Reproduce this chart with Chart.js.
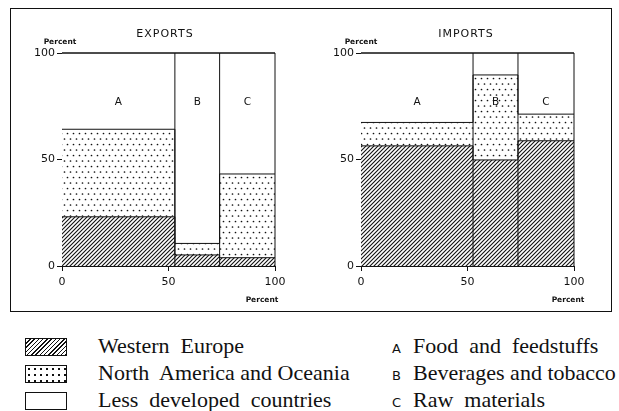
<!DOCTYPE html>
<html><head><meta charset="utf-8">
<script src="https://cdn.jsdelivr.net/npm/chart.js@4.4.1/dist/chart.umd.min.js"></script>
<style>
body{margin:0;background:#fff;width:619px;height:411px;position:relative;overflow:hidden;font-family:"DejaVu Sans",sans-serif;color:#111;}
#frame{position:absolute;left:10px;top:8px;width:600px;height:302px;border:1px solid #111;}
canvas{position:absolute;top:0;}
.t{position:absolute;white-space:nowrap;transform:translate(-50%,-50%);}
.title{font-size:11px;letter-spacing:1px;}
.pc{font-size:7.5px;font-weight:bold;}
.sw{position:absolute;left:25px;width:40px;height:16px;border:1px solid #111;background:#fff;}
.lg{position:absolute;font-family:"Liberation Serif",serif;font-size:22px;white-space:nowrap;transform:translateY(-50%);}
.lk{position:absolute;font-family:"DejaVu Sans",sans-serif;font-size:13px;transform:translateY(-50%);}
</style></head>
<body>
<div id="frame"></div>
<canvas id="exp" width="310" height="300" style="left:0px"></canvas>
<canvas id="imp" width="310" height="300" style="left:300px"></canvas>
<div class="t title" style="left:165px;top:33px">EXPORTS</div>
<div class="t title" style="left:466px;top:33px">IMPORTS</div>
<div class="t pc" style="left:60px;top:41px">Percent</div>
<div class="t pc" style="left:361px;top:41px">Percent</div>
<div class="t pc" style="left:262px;top:299px">Percent</div>
<div class="t pc" style="left:568px;top:299px">Percent</div>

<div class="sw" style="top:338px;background:repeating-linear-gradient(-45deg,#111 0 1px,#fff 1px 3px)"></div>
<div class="sw" style="top:365px;background:radial-gradient(circle,#111 0.9px,transparent 1.2px) 0 0/6px 6px,#fff"></div>
<div class="sw" style="top:392px;"></div>
<div class="lg" style="left:98px;top:346px">Western&nbsp; Europe</div>
<div class="lg" style="left:98px;top:373px">North&nbsp; America and Oceania</div>
<div class="lg" style="left:98px;top:400px">Less&nbsp; developed&nbsp; countries</div>
<div class="lk" style="left:392px;top:348px">A</div>
<div class="lk" style="left:392px;top:375px">B</div>
<div class="lk" style="left:392px;top:402px">C</div>
<div class="lg" style="left:413px;top:346px">Food&nbsp; and&nbsp; feedstuffs</div>
<div class="lg" style="left:413px;top:373px">Beverages and tobacco</div>
<div class="lg" style="left:413px;top:400px">Raw&nbsp; materials</div>

<script>
const categories = ['A', 'B', 'C'];
const seriesNames = ['Western Europe', 'North America and Oceania', 'Less developed countries'];
// column widths (share of total, percent)
const exportWidths = [53, 21, 26];
const importWidths = [52.6, 21.1, 26.3];
// regional shares within each column (percent)
const exportWE = [23.1, 5.2, 3.9];
const exportNA = [41.1, 5.4, 39.3];
const exportLDC = [35.8, 89.4, 56.8];
const importWE = [56.4, 49.8, 58.8];
const importNA = [11.0, 39.9, 12.5];
const importLDC = [32.6, 10.3, 28.7];
const xTickValues = [0, 50, 100];
const yTickValues = [0, 50, 100];

function hatchPattern() {
  const c = document.createElement('canvas'); c.width = 4; c.height = 4;
  const g = c.getContext('2d');
  g.fillStyle = '#fff'; g.fillRect(0, 0, 4, 4);
  g.strokeStyle = '#111'; g.lineWidth = 1.1;
  g.beginPath();
  g.moveTo(0, 4); g.lineTo(4, 0);
  g.moveTo(-1, 1); g.lineTo(1, -1);
  g.moveTo(3, 5); g.lineTo(5, 3);
  g.stroke();
  return g.createPattern(c, 'repeat');
}
function dotPattern() {
  const c = document.createElement('canvas'); c.width = 6; c.height = 11;
  const g = c.getContext('2d');
  g.fillStyle = '#fff'; g.fillRect(0, 0, 6, 11);
  g.fillStyle = '#111';
  g.beginPath(); g.arc(1.5, 1.5, 0.85, 0, Math.PI * 2); g.fill();
  g.beginPath(); g.arc(4.5, 7, 0.85, 0, Math.PI * 2); g.fill();
  return g.createPattern(c, 'repeat');
}

function boundaries(widths) {
  const b = [0];
  widths.forEach(w => b.push(b[b.length - 1] + w));
  return b;
}
function stepPoints(b, tops) {
  const pts = tops.map((v, i) => ({ x: b[i], y: v }));
  pts.push({ x: b[b.length - 1], y: tops[tops.length - 1] });
  return pts;
}

function makeChart(id, widths, we, na, ldc, padL, padR) {
  const b = boundaries(widths);
  const topWE = we.slice();
  const topNA = we.map((v, i) => v + na[i]);
  const topLDC = topNA.map((v, i) => v + ldc[i]);
  const common = { stepped: 'before', pointRadius: 0, borderColor: '#111', borderWidth: 1, clip: 4, order: 2 };
  const datasets = [
    Object.assign({ label: seriesNames[0], data: stepPoints(b, topWE), fill: 'origin', backgroundColor: hatchPattern() }, common),
    Object.assign({ label: seriesNames[1], data: stepPoints(b, topNA), fill: '-1', backgroundColor: dotPattern() }, common),
    Object.assign({ label: seriesNames[2], data: stepPoints(b, topLDC), fill: '-1', backgroundColor: '#fff' }, common)
  ];
  // column separators and outer edge, drawn on top
  b.slice(1).forEach(x => {
    datasets.push({ label: 'edge', data: [{ x: x, y: 0 }, { x: x, y: 100 }], pointRadius: 0, borderColor: '#111', borderWidth: 1, fill: false, clip: 4, order: 0 });
  });
  datasets.push({ label: 'top', data: [{ x: 0, y: 100 }, { x: 100, y: 100 }], pointRadius: 0, borderColor: '#111', borderWidth: 1, fill: false, clip: 4, order: 0 });
  const letters = {
    id: 'letters',
    afterDatasetsDraw(chart) {
      const { ctx, scales: { x, y } } = chart;
      ctx.save();
      ctx.fillStyle = '#111';
      ctx.font = '10.5px "DejaVu Sans", sans-serif';
      ctx.textAlign = 'center'; ctx.textBaseline = 'middle';
      categories.forEach((c, i) => {
        ctx.fillText(c, x.getPixelForValue(b[i] + widths[i] / 2), y.getPixelForValue(77));
      });
      ctx.restore();
    }
  };
  const tickFont = { family: '"DejaVu Sans", sans-serif', size: 11 };
  return new Chart(document.getElementById(id), {
    type: 'line',
    data: { datasets },
    plugins: [letters],
    options: {
      responsive: false, animation: false,
      layout: { padding: { left: padL, right: padR, top: 53, bottom: 12 } },
      plugins: { legend: { display: false }, tooltip: { enabled: false } },
      scales: {
        x: {
          type: 'linear', min: 0, max: 100,
          afterBuildTicks: s => { s.ticks = xTickValues.map(v => ({ value: v })); },
          afterFit: s => { s.height = 22; },
          ticks: { color: '#111', font: tickFont, padding: 5, maxRotation: 0 },
          grid: { drawOnChartArea: false, drawTicks: true, tickLength: 5, color: '#111' },
          border: { display: true, color: '#111', width: 1 }
        },
        y: {
          type: 'linear', min: 0, max: 100,
          afterBuildTicks: s => { s.ticks = yTickValues.map(v => ({ value: v })); },
          afterFit: s => { s.width = 30; },
          ticks: { color: '#111', font: tickFont, padding: 2 },
          grid: { drawOnChartArea: false, drawTicks: true, tickLength: 5, color: '#111' },
          border: { display: true, color: '#111', width: 1 }
        }
      }
    }
  });
}

makeChart('exp', exportWidths, exportWE, exportNA, exportLDC, 32, 35);
makeChart('imp', importWidths, importWE, importNA, importLDC, 31, 36);
</script>
</body></html>
